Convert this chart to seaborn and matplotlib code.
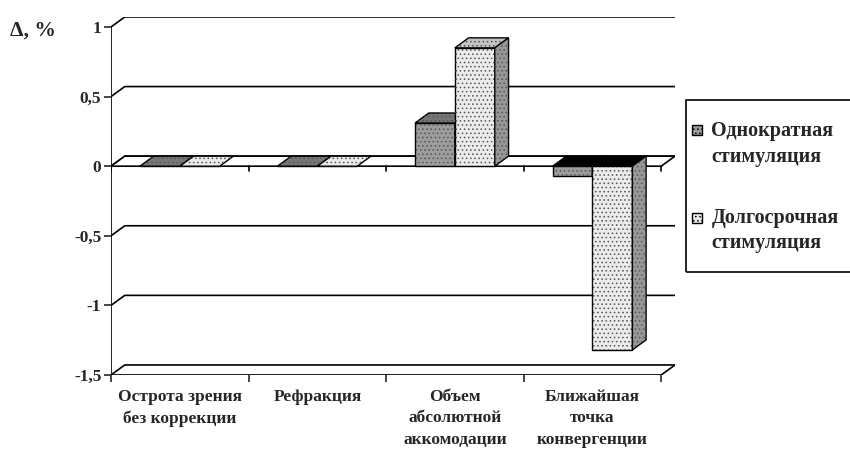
import numpy as np
import pandas as pd
import matplotlib
matplotlib.use("Agg")
import matplotlib.pyplot as plt
from matplotlib.patches import Polygon, Rectangle
import seaborn as sns

categories = ["Острота зрения\nбез коррекции", "Рефракция",
              "Объем\nабсолютной\nаккомодации", "Ближайшая\nточка\nконвергенции"]
series = ["Однократная\nстимуляция", "Долгосрочная\nстимуляция"]
single = [0.0, 0.0, 0.31, -0.07]
longterm = [0.0, 0.0, 0.85, -1.32]
y_ticks = [-1.5, -1, -0.5, 0, 0.5, 1]
y_labels = ["-1,5", "-1", "-0,5", "0", "0,5", "1"]

front = ["#9c9c9c", "#ebebeb"]
top = ["#767676", "#c4c4c4"]
side = ["#5e5e5e", "#979797"]

df = pd.DataFrame({
    "cat": categories * 2,
    "val": single + longterm,
    "series": [series[0]] * 4 + [series[1]] * 4,
})

sns.set_style("white")
plt.rcParams["font.family"] = ["Liberation Serif", "DejaVu Serif"]
plt.rcParams["font.weight"] = "bold"
plt.rcParams["hatch.linewidth"] = 0.6

fig = plt.figure(figsize=(8.5, 4.5), dpi=100)
ax = fig.add_axes([0.1306, 0.1667, 0.6635, 0.7956])

# depth of the pseudo-3D box, in data units
dx, dy = 0.1, 0.072
x0, x1 = -0.5, len(categories) - 0.5
ymin, ymax = -1.5, 1

sns.barplot(data=df, x="cat", y="val", hue="series", palette=front, width=0.58,
            saturation=1, errorbar=None, edgecolor="black", linewidth=1,
            legend=False, ax=ax)

ax.set_xlim(x0, x1 + dx)
ax.set_ylim(ymin, ymax + dy)
for s in ax.spines.values():
    s.set_visible(False)
ax.set_xlabel("")
ax.set_ylabel("")

# back wall gridlines
for y in y_ticks:
    ax.plot([x0, x0 + dx, x1 + dx], [y, y + dy, y + dy], color="black", lw=1.2, zorder=1)
# floor front edge
ax.plot([x0, x1, x1 + dx], [ymin, ymin, ymin + dy], color="black", lw=1.2, zorder=1)
# zero plane
ax.add_patch(Polygon([(x0, 0), (x1, 0), (x1 + dx, dy), (x0 + dx, dy)], closed=True,
                     facecolor="white", edgecolor="black", lw=1.2, zorder=1.5))
for b in np.arange(x0, x1 + 0.01, 1):
    ax.plot([b, b], [0, -0.035], color="black", lw=1.2, zorder=1.6)
# front vertical axis
ax.plot([x0, x0], [ymin, ymax], color="black", lw=1.2, zorder=7)


def face(verts, fc, z, hatch=True):
    ax.add_patch(Polygon(verts, closed=True, facecolor=fc, edgecolor="black", lw=1, zorder=z))
    if hatch:
        ax.add_patch(Polygon(verts, closed=True, fill=False, hatch="....",
                             edgecolor="#555555", lw=0, zorder=z))


for j, cont in enumerate(ax.containers):
    z = 3 + j
    for bar in cont:
        x, w, h = bar.get_x(), bar.get_width(), bar.get_height()
        bar.set_zorder(z)
        if h != 0:
            ax.add_patch(Rectangle((x, 0), w, h, fill=False, hatch="....",
                                   edgecolor="#555555", lw=0, zorder=z))
        yt = max(h, 0)
        top_verts = [(x, yt), (x + w, yt), (x + w + dx, yt + dy), (x + dx, yt + dy)]
        if h > 0:
            face(top_verts, top[j], z)
        elif h < 0:
            face(top_verts, "black", z, hatch=False)
        else:
            face(top_verts, front[j] if j == 1 else top[j], z)
        if h != 0:
            face([(x + w, 0), (x + w, h), (x + w + dx, h + dy), (x + w + dx, dy)], side[j], z)

ax.set_yticks(y_ticks, y_labels)
ax.tick_params(axis="y", length=5, width=1.2, direction="out", pad=2, labelsize=12.5, left=True)
ax.set_xticks(range(len(categories)), categories)
ax.set_xticks(np.arange(x0, x1 + 0.01, 1), minor=True)
ax.tick_params(axis="x", which="major", length=0, pad=10, labelsize=12.5)
ax.tick_params(axis="x", which="minor", length=5, width=1.2, direction="out", bottom=True)
for t in ax.get_xticklabels():
    t.set_linespacing(1.45)

fig.text(0.012, 0.933, "Δ, %", va="center", ha="left", fontsize=15.5)

# legend box
fig.patches.append(Rectangle((0.807, 0.396), 0.25, 0.382, transform=fig.transFigure,
                             fill=False, edgecolor="black", lw=1.2))
for j, (name, yc, yh) in enumerate(zip(series, [0.680, 0.488], [0.711, 0.516])):
    fig.patches.append(Rectangle((0.814, yh - 0.011), 0.0118, 0.022, transform=fig.transFigure,
                                 facecolor=front[j], edgecolor="black", lw=1, hatch="...."))
    fig.text(0.837, yc, name, va="center", ha="left", fontsize=14.5, linespacing=1.35)

fig.savefig("out.png", dpi=100)
